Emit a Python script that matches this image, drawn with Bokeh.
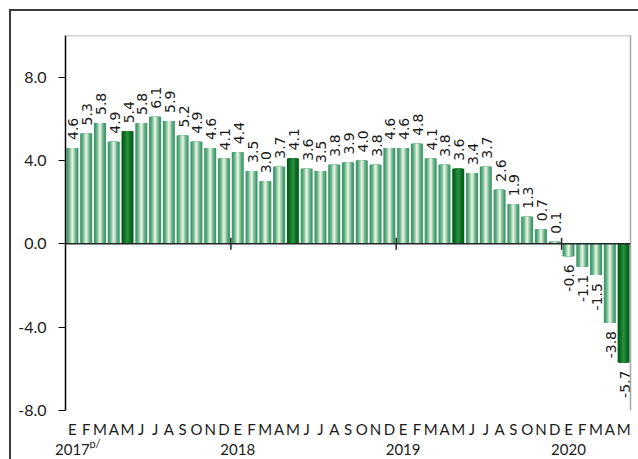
import math
from bokeh.plotting import figure
from bokeh.models import (ColumnDataSource, Range1d, FixedTicker, LinearAxis, Span,
                          NumeralTickFormatter)
from bokeh.core.properties import value
from bokeh.embed import file_html
from bokeh.resources import INLINE

# ---------------- data ----------------
month_labels = ["E", "F", "M", "A", "M", "J", "J", "A", "S", "O", "N", "D"] * 3 + ["E", "F", "M", "A", "M"]
years = [2017] * 12 + [2018] * 12 + [2019] * 12 + [2020] * 5
values = [4.6, 5.3, 5.8, 4.9, 5.4, 5.8, 6.1, 5.9, 5.2, 4.9, 4.6, 4.1,
          4.4, 3.5, 3.0, 3.7, 4.1, 3.6, 3.5, 3.8, 3.9, 4.0, 3.8, 4.6,
          4.6, 4.8, 4.1, 3.8, 3.6, 3.4, 3.7, 2.6, 1.9, 1.3, 0.7, 0.1,
          -0.6, -1.1, -1.5, -3.8, -5.7]
year_labels = ["2017", "2018", "2019", "2020"]
year_note = "p/"
y_ticks = [-8, -4, 0, 4, 8]
Y_MIN, Y_MAX = -8, 10

n = len(values)
xs = list(range(n))
highlight = [(i % 12) == 4 for i in xs]   # May of every year

# ---------------- layout / style ----------------
W, H = 638, 459
LEFT, RIGHT, TOP = 65, 8, 35
PLOT_BOTTOM_PX = 410      # where Y_MIN sits on the canvas
FRAME_BOTTOM_PX = 448     # frame extended down to hold the month row
px_per_unit = (PLOT_BOTTOM_PX - TOP) / (Y_MAX - Y_MIN)
y_start = Y_MIN - (FRAME_BOTTOM_PX - PLOT_BOTTOM_PX) / px_per_unit

def hex2rgb(h):
    h = h.lstrip("#")
    return tuple(int(h[i:i + 2], 16) for i in (0, 2, 4))

def lerp(c1, c2, t):
    a, b = hex2rgb(c1), hex2rgb(c2)
    return "#%02x%02x%02x" % tuple(int(round(a[k] + (b[k] - a[k]) * t)) for k in range(3))

LIGHT_EDGE, LIGHT_CENTER = "#389866", "#e4f2e0"
DARK_EDGE, DARK_CENTER = "#005f18", "#2a9040"
BAR_W = 0.87
LAYERS = 8

FONT_AX = "Lato"
FONT_LBL = "DejaVu Sans"
TXT = "#1a1a1a"
BORDER = "#3c3c3c"

p = figure(width=W, height=H, output_backend="svg", toolbar_location=None,
           x_range=Range1d(-0.5, n - 0.5), y_range=Range1d(y_start, Y_MAX),
           x_axis_location=None,
           min_border_left=LEFT, min_border_right=RIGHT, min_border_top=TOP,
           min_border_bottom=H - FRAME_BOTTOM_PX)
p.outline_line_color = None
p.background_fill_color = "white"
p.border_fill_color = None
p.styles = {
    "background": (f"linear-gradient({BORDER},{BORDER}) 9px 9px / 2px 100% no-repeat, "
                   f"linear-gradient({BORDER},{BORDER}) 9px 9px / 100% 2px no-repeat, #ffffff"),
}
p.grid.visible = False

# gradient-like bars: nested vbars, narrowing and lightening toward the centre
for k in range(LAYERS):
    t = (k / (LAYERS - 1)) ** 1.5
    w = BAR_W * (1 - k / LAYERS)
    cols = [lerp(DARK_EDGE, DARK_CENTER, t) if h else lerp(LIGHT_EDGE, LIGHT_CENTER, t) for h in highlight]
    src = ColumnDataSource(dict(x=xs, top=values, color=cols))
    p.vbar(x="x", top="top", bottom=0, width=w, source=src, fill_color="color", line_color=None)

# zero line with year-boundary ticks
p.add_layout(Span(location=0, dimension="width", line_color="#262626", line_width=1.5))
bounds = [i - 0.5 for i in range(1, n) if years[i] != years[i - 1]]
p.scatter(x=bounds, y=[0] * len(bounds), marker="dash", angle=math.pi / 2, size=12,
          line_color="#262626", line_width=1.5)

# plot-area border: top line and right axis line
p.add_layout(Span(location=Y_MAX, dimension="width", line_color="#a6a6a6", line_width=1.5))
ra = LinearAxis(ticker=FixedTicker(ticks=[], minor_ticks=[]), bounds=(Y_MIN, Y_MAX),
                axis_line_color="#a6a6a6", axis_line_width=1.5,
                major_tick_line_color=None, minor_tick_line_color=None,
                major_tick_out=0, major_tick_in=0, major_label_text_font_size="0px")
p.add_layout(ra, "right")

# value labels
pos = ColumnDataSource(dict(x=[x for x, v in zip(xs, values) if v >= 0],
                            y=[v for v in values if v >= 0],
                            t=["%.1f" % v for v in values if v >= 0]))
neg = ColumnDataSource(dict(x=[x for x, v in zip(xs, values) if v < 0],
                            y=[v for v in values if v < 0],
                            t=["%.1f" % v for v in values if v < 0]))
common = dict(angle=math.pi / 2, text_baseline="middle", text_font=value(FONT_LBL),
              text_font_size="14px", text_color=TXT)
p.text(x="x", y="y", text="t", source=pos, text_align="left", y_offset=-8, x_offset=1, **common)
p.text(x="x", y="y", text="t", source=neg, text_align="right", y_offset=8, x_offset=1, **common)

# y axis
ya = p.yaxis[0]
ya.ticker = FixedTicker(ticks=y_ticks, minor_ticks=[])
ya.bounds = (Y_MIN, Y_MAX)
ya.formatter = NumeralTickFormatter(format="0.0")
ya.axis_line_color = "black"
ya.axis_line_width = 1.5
ya.major_tick_line_color = "black"
ya.major_tick_out = 7
ya.major_tick_in = 0
ya.minor_tick_line_color = None
ya.major_label_standoff = 12
ya.major_label_text_font = FONT_AX
ya.major_label_text_font_size = "16px"
ya.major_label_text_color = TXT

# month row (below the value axis minimum)
msrc = ColumnDataSource(dict(x=xs, y=[Y_MIN] * n, t=month_labels))
p.text(x="x", y="y", text="t", source=msrc, text_align="center", text_baseline="middle",
       y_offset=18, text_font=value(FONT_AX), text_font_size="15px", text_color=TXT)

# year axis
year_pos = [i for i in range(n) if i == 0 or years[i] != years[i - 1]]
yx = LinearAxis(ticker=FixedTicker(ticks=year_pos, minor_ticks=[]),
                major_label_overrides={i: y for i, y in zip(year_pos, year_labels)},
                axis_line_color=None, major_tick_line_color=None, minor_tick_line_color=None,
                major_tick_out=0, major_tick_in=0,
                major_label_standoff=-5, major_label_text_font=FONT_AX,
                major_label_text_font_size="15px", major_label_text_color=TXT)
p.add_layout(yx, "below")

# "p/" superscript after the first year
p.text(x=[year_pos[0]], y=[Y_MIN], text=[year_note], text_align="left", text_baseline="top",
       x_offset=17, y_offset=26, text_font=value(FONT_AX), text_font_size="11px", text_color=TXT)

open("out.html", "w").write(file_html(p, INLINE))
